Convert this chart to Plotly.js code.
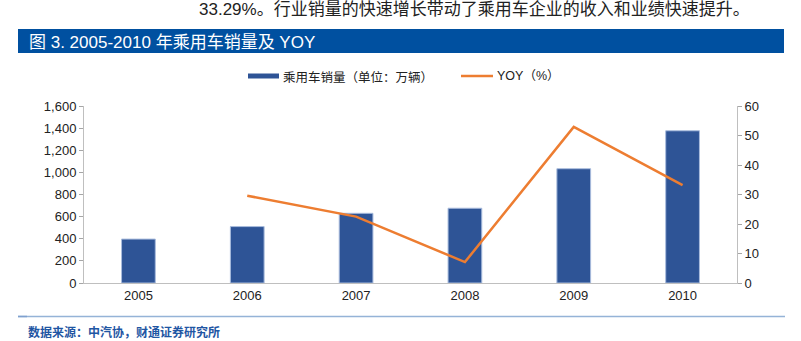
<!DOCTYPE html>
<html>
<head>
<meta charset="utf-8">
<script src="https://cdn.plot.ly/plotly-3.0.1.min.js"></script>
<style>
html,body{margin:0;padding:0;background:#fff;}
#chart{width:801px;height:341px;}
</style>
</head>
<body>
<div id="chart"></div>
<script>
// ---- data ----
const years = ["2005", "2006", "2007", "2008", "2009", "2010"];
const sales = [397, 510, 630, 676, 1033, 1376];           // 乘用车销量（万辆）
const yoyYears = ["2006", "2007", "2008", "2009", "2010"];
const yoy = [29.6, 22.5, 7.1, 52.9, 33.2];                 // YOY (%)
const leftTicks = [0, 200, 400, 600, 800, 1000, 1200, 1400, 1600];
const rightTicks = [0, 10, 20, 30, 40, 50, 60];

const topText = "33.29%。行业销量的快速增长带动了乘用车企业的收入和业绩快速提升。";
const titleText = "图 3. 2005-2010 年乘用车销量及 YOY";
const legendBar = "乘用车销量（单位：万辆）";
const legendLine = "YOY（%）";
const sourceText = "数据来源：中汽协，财通证券研究所";

// ---- layout helpers (pixel -> paper) ----
const W = 801, H = 341;
const M = {l: 84, r: 64, t: 106, b: 58};
const PW = W - M.l - M.r, PH = H - M.t - M.b;
const px = x => (x - M.l) / PW;
const py = y => (H - M.b - y) / PH;

const FONT = "Liberation Sans, Arial, Noto Sans CJK SC, sans-serif";
const CJK = "Noto Sans CJK SC, Liberation Sans, sans-serif";
const BAR = "#2E5496";
const LINE = "#ED7D31";

const traces = [
  {
    type: "bar", x: years, y: sales, name: legendBar,
    marker: {color: BAR, line: {color: "#A9BCDD", width: 1}},
    width: 0.31, showlegend: false, hoverinfo: "x+y"
  },
  {
    type: "scatter", mode: "lines", x: yoyYears, y: yoy, name: legendLine,
    yaxis: "y2", line: {color: LINE, width: 2.5}, showlegend: false
  }
];

const axisCommon = {
  showgrid: false, zeroline: false, showline: true,
  linecolor: "#BFBFBF", linewidth: 1,
  ticks: "outside", tickcolor: "#A6A6A6", ticklen: 4, tickwidth: 1,
  tickfont: {family: FONT, size: 13, color: "#222"}
};

const layout = {
  width: W, height: H,
  margin: M,
  paper_bgcolor: "#fff", plot_bgcolor: "#fff",
  showlegend: false,
  xaxis: Object.assign({}, axisCommon, {
    type: "category", categoryorder: "array", categoryarray: years,
    ticks: "", range: [-0.5, 5.5]
  }),
  yaxis: Object.assign({}, axisCommon, {
    range: [0, 1600], tickvals: leftTicks, tickformat: ",d"
  }),
  yaxis2: Object.assign({}, axisCommon, {
    range: [0, 60], tickvals: rightTicks, overlaying: "y", side: "right"
  }),
  shapes: [
    // title bar
    {type: "rect", xref: "paper", yref: "paper", x0: px(18), x1: px(784), y0: py(53), y1: py(29),
     fillcolor: "#0050A0", line: {width: 0}, layer: "below"},
    // legend swatches
    {type: "rect", xref: "paper", yref: "paper", x0: px(248), x1: px(279), y0: py(78.5), y1: py(73.5),
     fillcolor: BAR, line: {width: 0}},
    {type: "line", xref: "paper", yref: "paper", x0: px(461), x1: px(493), y0: py(76), y1: py(76),
     line: {color: LINE, width: 2.5}},
    // bottom rule
    {type: "line", xref: "paper", yref: "paper", x0: px(18), x1: px(785), y0: py(316.5), y1: py(316.5),
     line: {color: "#95B3D7", width: 1.5}},
    {type: "line", xref: "paper", yref: "paper", x0: px(18), x1: px(27), y0: py(316.5), y1: py(316.5),
     line: {color: "#7FA0CF", width: 1.5}}
  ],
  annotations: [
    {xref: "paper", yref: "paper", x: px(197), y: py(9), xanchor: "left", yanchor: "middle",
     text: topText, showarrow: false, font: {family: FONT, size: 17, color: "#222"}},
    {xref: "paper", yref: "paper", x: px(27), y: py(42), xanchor: "left", yanchor: "middle",
     text: titleText, showarrow: false, font: {family: FONT, size: 17, color: "#ffffff"}},
    {xref: "paper", yref: "paper", x: px(281), y: py(76), xanchor: "left", yanchor: "middle",
     text: legendBar, showarrow: false, font: {family: CJK, size: 12.5, color: "#222"}},
    {xref: "paper", yref: "paper", x: px(495), y: py(76), xanchor: "left", yanchor: "middle",
     text: legendLine, showarrow: false, font: {family: FONT, size: 12.5, color: "#222"}},
    {xref: "paper", yref: "paper", x: px(26), y: py(331.5), xanchor: "left", yanchor: "middle",
     text: "<b>" + sourceText + "</b>", showarrow: false, font: {family: CJK, size: 12, color: "#1F56A3"}}
  ]
};

Plotly.newPlot("chart", traces, layout, {displayModeBar: false, staticPlot: true});
</script>
</body>
</html>
